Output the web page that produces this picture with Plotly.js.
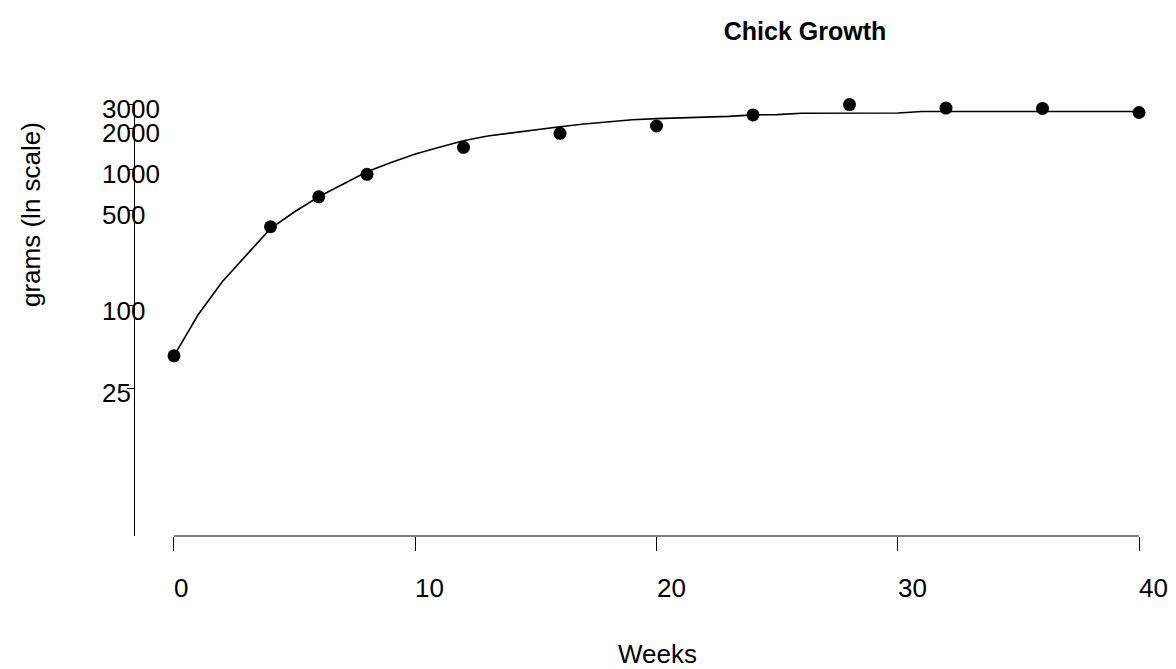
<!DOCTYPE html>
<html>
<head>
<meta charset="utf-8">
<script src="https://cdn.plot.ly/plotly-3.0.1.min.js"></script>
<style>html,body{margin:0;padding:0;background:#fff;}#chart{width:1176px;height:669px;}</style>
</head>
<body>
<div id="chart"></div>
<script>
// Observed weekly weights (grams)
const obsWeeks = [0, 4, 6, 8, 12, 16, 20, 24, 28, 32, 36, 40];
const obsGrams = [43, 379, 628, 917, 1445, 1829, 2070, 2494, 2970, 2800, 2784, 2600];

// Fitted growth curve (grams), one value per week
const fitWeeks = [0,1,2,3,4,5,6,7,8,9,10,11,12,13,14,15,16,17,18,19,20,
                  21,22,23,24,25,26,27,28,29,30,31,32,33,34,35,36,37,38,39,40];
const fitGrams = [43, 86, 150, 235, 368, 488, 628, 775, 958, 1117, 1292, 1445, 1617, 1749, 1850, 1958, 2047, 2141, 2230, 2300, 2344,
                  2368, 2412, 2437, 2496, 2510, 2568, 2568, 2568, 2568, 2580, 2644, 2644, 2644, 2644, 2644, 2644, 2644, 2644, 2644, 2644];

// Axis ticks
const xTickVals = [0, 10, 20, 30, 40];
const xTickText = ['0', '10', '20', '30', '40'];
const yTickVals = [25, 100, 500, 1000, 2000, 3000];
const yTickText = ['25', '100', '500', '1000', '2000', '3000'];

const FONT = 'Liberation Sans, Arial, Helvetica, sans-serif';
const FS = 26;
const W = 1176, H = 669;
const mL = 135, mR = 20, mT = 104, mB = 133;
const plotW = W - mL - mR, plotH = H - mT - mB;

const traces = [
  {x: fitWeeks, y: fitGrams, type: 'scatter', mode: 'lines',
   line: {color: '#000', width: 1.6}, hoverinfo: 'skip', cliponaxis: false},
  {x: obsWeeks, y: obsGrams, type: 'scatter', mode: 'markers',
   marker: {color: '#000', size: 13}, cliponaxis: false}
];

const annotations = [];
yTickVals.forEach((v, i) => {
  annotations.push({xref: 'paper', yref: 'y', x: (100 - mL) / plotW, y: Math.log10(v),
    xanchor: 'left', yanchor: 'middle', yshift: -5, text: yTickText[i], showarrow: false,
    font: {family: FONT, size: FS, color: '#000'}});
});
xTickVals.forEach((v, i) => {
  annotations.push({xref: 'x', yref: 'paper', x: v, y: -(588 - (H - mB)) / plotH,
    xanchor: 'left', yanchor: 'middle', xshift: -2, text: xTickText[i], showarrow: false,
    font: {family: FONT, size: FS, color: '#000'}});
});
annotations.push({xref: 'paper', yref: 'paper', x: (657 - mL) / plotW, y: -(654 - (H - mB)) / plotH,
  xanchor: 'center', yanchor: 'middle', text: 'Weeks', showarrow: false,
  font: {family: FONT, size: FS, color: '#000'}});
annotations.push({xref: 'paper', yref: 'paper', x: (31 - mL) / plotW, y: ((H - mB) - 215) / plotH,
  xanchor: 'center', yanchor: 'middle', text: 'grams (ln scale)', textangle: -90, showarrow: false,
  font: {family: FONT, size: FS, color: '#000'}});

const layout = {
  width: W, height: H,
  margin: {l: mL, r: mR, t: mT, b: mB, pad: 0},
  paper_bgcolor: '#fff', plot_bgcolor: '#fff',
  showlegend: false,
  title: {text: '<b>Chick Growth</b>', xref: 'container', yref: 'container',
          x: 805 / W, xanchor: 'center', y: 1 - 31 / H, yanchor: 'middle',
          font: {family: FONT, size: 25, color: '#000'}},
  xaxis: {range: [-(174 - mL) / 24.13, 40 + (W - mR - 1139) / 24.13],
          showgrid: false, zeroline: false, showline: false,
          ticks: 'outside', ticklen: 14, tickwidth: 1, tickcolor: '#000',
          tickvals: xTickVals, showticklabels: false, fixedrange: true},
  yaxis: {type: 'log', range: [0.3148, Math.log10(3000)],
          showgrid: false, zeroline: false, showline: true, linecolor: '#000', linewidth: 1,
          ticks: 'outside', ticklen: 7, tickwidth: 1, tickcolor: '#000',
          tickvals: yTickVals, showticklabels: false, fixedrange: true},
  shapes: [{type: 'line', xref: 'x', yref: 'paper', x0: xTickVals[0], x1: xTickVals[xTickVals.length - 1],
            y0: 0, y1: 0, line: {color: '#000', width: 1}}],
  annotations: annotations
};

Plotly.newPlot('chart', traces, layout, {staticPlot: true, displayModeBar: false});
</script>
</body>
</html>
